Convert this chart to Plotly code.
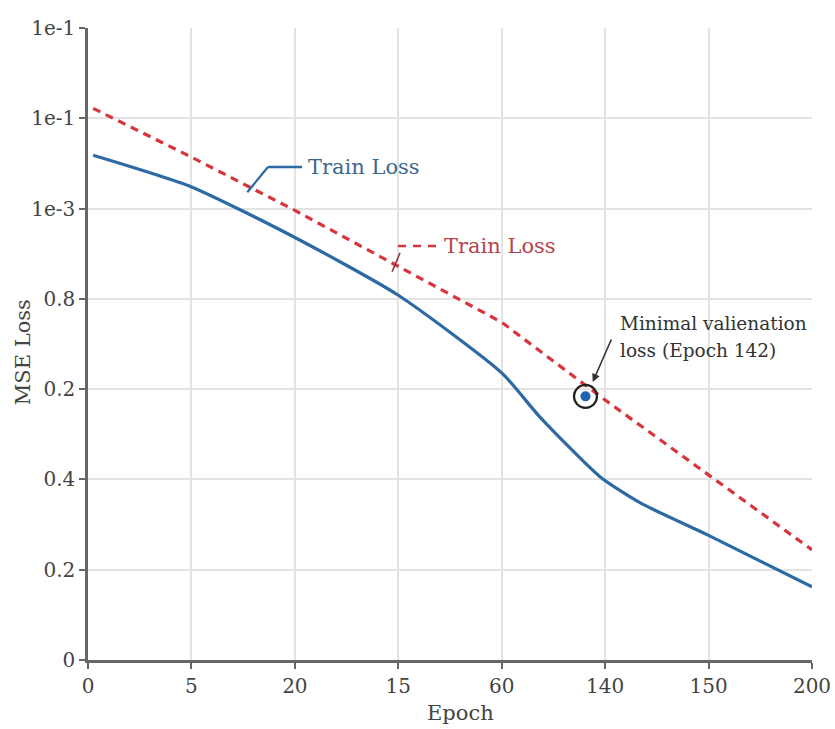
import plotly.graph_objects as go

# Tick labels (evenly spaced positions on both axes)
x_tick_labels = ["0", "5", "20", "15", "60", "140", "150", "200"]
y_tick_labels = ["0", "0.2", "0.4", "0.2", "0.8", "1e-3", "1e-1", "1e-1"]

# Series (in tick-position units)
x_solid = [0.05, 1, 2, 3, 4, 4.37, 4.95, 5.34, 6, 7]
train_solid = [5.59, 5.24, 4.68, 4.04, 3.18, 2.69, 2.03, 1.74, 1.38, 0.81]
x_dash = [0.05, 1, 2, 3, 4, 5, 6, 7]
train_dash = [6.11, 5.57, 4.98, 4.36, 3.74, 2.88, 2.05, 1.22]

# Minimal validation point
min_x = [4.81]
min_y = [2.92]

blue = "#2d69a3"
red = "#d8343d"
font_family = "DejaVu Serif, Liberation Serif, serif"
text_col = "#444444"

fig = go.Figure()
fig.add_trace(go.Scatter(x=x_solid, y=train_solid, mode="lines",
                         line=dict(color=blue, width=3.2, shape="spline", smoothing=0.6),
                         showlegend=False))
fig.add_trace(go.Scatter(x=x_dash, y=train_dash, mode="lines",
                         line=dict(color=red, width=3.2, dash="8px,6px"),
                         showlegend=False))
fig.add_trace(go.Scatter(x=min_x, y=min_y, mode="markers",
                         marker=dict(symbol="circle-open", size=23, color="#222222",
                                     line=dict(width=2.2)),
                         showlegend=False))
fig.add_trace(go.Scatter(x=min_x, y=min_y, mode="markers",
                         marker=dict(symbol="circle", size=10, color="#1f62b4"),
                         showlegend=False))

# Leader lines
fig.add_shape(type="line", x0=1.54, y0=5.18, x1=1.74, y1=5.46,
              line=dict(color=blue, width=2.2))
fig.add_shape(type="line", x0=1.74, y0=5.46, x1=2.07, y1=5.46,
              line=dict(color=blue, width=2.5))
fig.add_shape(type="line", x0=2.997, y0=4.585, x1=3.38, y1=4.585,
              line=dict(color=red, width=2.5, dash="8px,7px"))
fig.add_shape(type="line", x0=3.017, y0=4.51, x1=2.94, y1=4.30,
              line=dict(color="#8a3a40", width=1.6))

fig.add_annotation(x=2.11, y=5.46, text="Train Loss", showarrow=False,
                   xanchor="left", yanchor="middle",
                   font=dict(family=font_family, size=21, color="#3b6790"))
fig.add_annotation(x=3.42, y=4.585, text="Train Loss", showarrow=False,
                   xanchor="left", yanchor="middle",
                   font=dict(family=font_family, size=21, color="#b5444c"))
fig.add_annotation(x=5.12, y=3.73, text="Minimal valienation",
                   showarrow=False, xanchor="left", yanchor="middle",
                   font=dict(family=font_family, size=18.5, color="#333333"))
fig.add_annotation(x=5.12, y=3.43, text="loss (Epoch 142)",
                   showarrow=False, xanchor="left", yanchor="middle",
                   font=dict(family=font_family, size=18.5, color="#333333"))
fig.add_annotation(x=4.88, y=3.08, ax=5.066, ay=3.566, axref="x", ayref="y",
                   text="", showarrow=True, arrowhead=2, arrowsize=1,
                   arrowwidth=1.6, arrowcolor="#333333")

# Axis titles
fig.add_annotation(x=0.515, y=-0.0839, xref="paper", yref="paper", text="Epoch",
                   showarrow=False, xanchor="center", yanchor="middle",
                   font=dict(family=font_family, size=21, color=text_col))
fig.add_annotation(x=-0.0898, y=0.487, xref="paper", yref="paper", text="MSE Loss",
                   showarrow=False, xanchor="center", yanchor="middle", textangle=-90,
                   font=dict(family=font_family, size=21, color=text_col))

fig.update_layout(
    width=835, height=729,
    margin=dict(l=88, r=23, t=28, b=69),
    paper_bgcolor="white", plot_bgcolor="white",
    font=dict(family=font_family, size=20, color=text_col),
)
axis_common = dict(
    range=[0, 7], tickmode="array", tickvals=list(range(8)),
    showgrid=True, gridcolor="#e3e3e3", gridwidth=1.6, zeroline=False,
    showline=True, linecolor="#666666", linewidth=2.5,
    ticks="outside", ticklen=6, tickcolor="#666666", tickwidth=2,
    tickfont=dict(family=font_family, size=20, color=text_col),
    automargin=False,
)
fig.update_xaxes(ticktext=x_tick_labels, **axis_common)
fig.update_yaxes(ticktext=y_tick_labels, **axis_common)

# Remove the default page margin so the figure fills the window exactly.
fig.write_html(
    "out.html",
    config={"displayModeBar": False},
    post_script="document.body.style.margin='0';document.body.style.overflow='hidden';",
)
